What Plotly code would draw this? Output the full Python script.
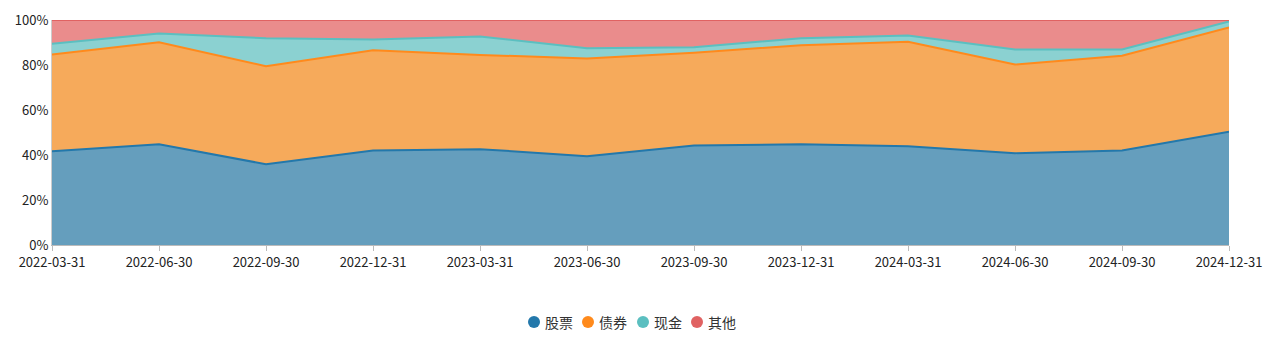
import plotly.graph_objects as go

# Quarterly asset allocation (percent of net assets)
dates = ["2022-03-31", "2022-06-30", "2022-09-30", "2022-12-31",
         "2023-03-31", "2023-06-30", "2023-09-30", "2023-12-31",
         "2024-03-31", "2024-06-30", "2024-09-30", "2024-12-31"]
stock = [41.7, 44.8, 35.9, 42.0, 42.6, 39.5, 44.2, 44.8, 43.9, 40.8, 42.0, 50.3]
bond = [43.0, 45.3, 43.6, 44.6, 41.9, 43.4, 41.2, 44.0, 46.4, 39.4, 42.1, 46.4]
cash = [4.7, 3.9, 12.4, 4.7, 8.2, 4.6, 2.5, 3.1, 2.8, 6.7, 2.8, 2.6]
other = [10.6, 6.0, 8.1, 8.7, 7.3, 12.5, 12.1, 8.1, 6.9, 13.1, 13.1, 0.7]

names = ["股票", "债券", "现金", "其他"]
series = [stock, bond, cash, other]
line_colors = ["#2378ab", "#ff8a1c", "#5bbfc0", "#e06262"]
fill_colors = ["#659ebd", "#f6aa5b", "#8bd1d1", "#ea8c8c"]

W, H = 1269, 342
ML, MR, MT, MB = 52, 40, 20, 97
plot_w = W - ML - MR
plot_h = H - MT - MB

fig = go.Figure()
for name, vals, lc, fc in zip(names, series, line_colors, fill_colors):
    fig.add_trace(go.Scatter(
        x=dates, y=vals, name=name, mode="lines",
        stackgroup="alloc", line=dict(color=lc, width=2),
        fillcolor=fc, showlegend=False, hoverinfo="skip",
    ))

# Compact legend row: round swatch + label, centred under the chart
legend_px_y = 322
legend_starts = [528, 582, 637, 691]  # swatch left edge in pixels
to_px = lambda px: (px - ML) / plot_w
to_py = lambda py: (MT + plot_h - py) / plot_h
shapes, annotations = [], []
for name, lc, x0 in zip(names, line_colors, legend_starts):
    shapes.append(dict(
        type="circle", xref="paper", yref="paper",
        xsizemode="pixel", ysizemode="pixel",
        xanchor=to_px(x0 + 6), yanchor=to_py(legend_px_y),
        x0=-6, x1=6, y0=-6, y1=6,
        fillcolor=lc, line=dict(width=0),
    ))
    annotations.append(dict(
        text=name, xref="paper", yref="paper",
        x=to_px(x0 + 15), y=to_py(legend_px_y),
        xanchor="left", yanchor="middle", showarrow=False,
        font=dict(size=14, color="#333333"),
    ))

font = "Noto Sans CJK SC, Microsoft YaHei, sans-serif"
fig.update_layout(
    width=W, height=H, autosize=False,
    margin=dict(l=ML, r=MR, t=MT, b=MB, autoexpand=False),
    paper_bgcolor="white", plot_bgcolor="white",
    font=dict(family=font, size=13, color="#333333"),
    showlegend=False,
    shapes=shapes, annotations=annotations,
    xaxis=dict(
        type="category", range=[0, len(dates) - 1],
        showgrid=False, showline=True, linecolor="#bbbbbb", linewidth=1,
        ticks="outside", ticklen=5, tickcolor="#bbbbbb",
        tickfont=dict(size=13, color="#222222"), tickangle=0,
        zeroline=False, automargin=False,
    ),
    yaxis=dict(
        range=[0, 100], tickvals=[0, 20, 40, 60, 80, 100],
        ticktext=["0%", "20%", "40%", "60%", "80%", "100%"],
        showgrid=True, gridcolor="#dddddd", griddash="dot", gridwidth=1,
        showline=True, linecolor="#cccccc", linewidth=1,
        zeroline=False, ticks="", tickfont=dict(size=13, color="#222222"),
        automargin=False,
    ),
)

fig.write_html("out.html")
